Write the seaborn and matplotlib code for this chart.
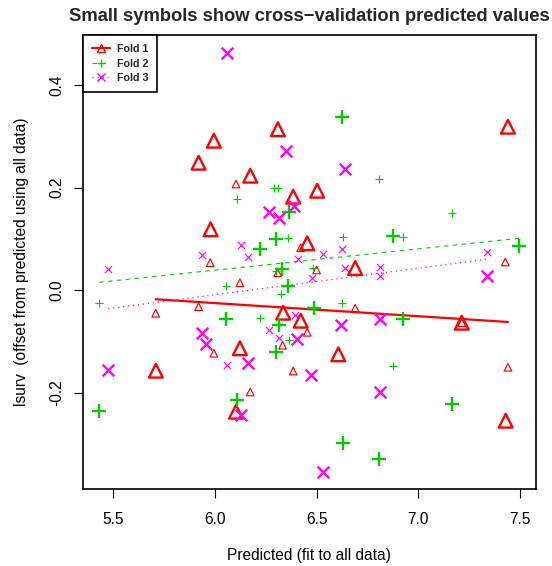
import matplotlib
matplotlib.use("Agg")
import matplotlib.pyplot as plt
from matplotlib.lines import Line2D
import seaborn as sns
import numpy as np
import pandas as pd

# ---------------- data ----------------
fold_names = ["Fold 1", "Fold 2", "Fold 3"]
fold_colors = ["#FF0000", "#00CD00", "#FF00FF"]

# Fold 1: large symbols (offset of observed), small symbols (cv predicted)
f1_large_x = [6.310, 5.995, 5.920, 6.174, 6.385, 6.503, 5.979, 6.454, 7.441, 6.690,
              6.336, 6.422, 6.123, 5.710, 6.104, 7.214, 6.607, 7.430]
f1_large_y = [0.3136, 0.2913, 0.2484, 0.2231, 0.1821, 0.1938, 0.1186, 0.0913, 0.3186, 0.0431,
              -0.0441, -0.0597, -0.1135, -0.1572, -0.2371, -0.0636, -0.1252, -0.2547]
f1_small_x = [6.104, 6.422, 5.977, 6.309, 6.500, 7.428, 5.709, 5.920, 6.123, 6.454,
              6.333, 5.995, 6.385, 6.174, 7.214, 6.690, 7.441]
f1_small_y = [0.2069, 0.0827, 0.0534, 0.0339, 0.0392, 0.0548, -0.0452, -0.0324, 0.0144, -0.0823,
              -0.1076, -0.1232, -0.1578, -0.1987, -0.0636, -0.0355, -0.1505]

# Fold 2
f2_large_x = [6.625, 6.366, 6.299, 6.220, 6.330, 7.497, 6.877, 6.487, 6.359, 6.054,
              6.314, 6.300, 6.107, 5.431, 6.926, 7.167, 6.628, 6.808]
f2_large_y = [0.3370, 0.1529, 0.0991, 0.0801, 0.0406, 0.0860, 0.1055, -0.0343, 0.0080, -0.0569,
              -0.0681, -0.1213, -0.2143, -0.2352, -0.0569, -0.2227, -0.2976, -0.3300]
f2_small_x = [6.290, 6.310, 6.107, 6.358, 6.299, 6.484, 6.808, 7.167, 6.628, 6.926,
              5.431, 6.054, 6.323, 6.222, 6.366, 6.625, 6.877]
f2_small_y = [0.1991, 0.1991, 0.1777, 0.1010, 0.0372, 0.0431, 0.2161, 0.1509, 0.1030, 0.1030,
              -0.0257, 0.0080, -0.0076, -0.0538, -0.0973, -0.0246, -0.1474]

# Fold 3
f3_large_x = [6.061, 6.348, 6.389, 6.264, 6.315, 6.638, 7.337, 5.936, 6.405, 5.956,
              6.163, 5.475, 6.474, 6.127, 6.622, 6.812, 6.812, 6.533]
f3_large_y = [0.4629, 0.2713, 0.1646, 0.1517, 0.1400, 0.2362, 0.0275, -0.0831, -0.0959, -0.1051,
              -0.1427, -0.1558, -0.1656, -0.2436, -0.0686, -0.0569, -0.1993, -0.3547]
f3_small_x = [6.127, 5.936, 6.161, 6.407, 5.475, 6.533, 6.623, 7.337, 6.638, 6.812,
              6.812, 6.476, 6.395, 6.264, 6.317, 6.061]
f3_small_y = [0.0879, 0.0690, 0.0640, 0.0601, 0.0406, 0.0704, 0.0807, 0.0749, 0.0425, 0.0445,
              0.0275, 0.0230, -0.0486, -0.0778, -0.0928, -0.1461]

# fitted line per fold: value at the fold's smallest and largest x
line_y_start = [-0.0179, 0.0152, -0.0363]
line_y_end = [-0.0622, 0.1010, 0.0601]

x_ticks = [5.5, 6.0, 6.5, 7.0, 7.5]
y_ticks = [-0.2, 0.0, 0.2, 0.4]

title = "Small symbols show cross\u2212validation predicted values"
x_label = "Predicted (fit to all data)"
y_label = "lsurv  (offset from predicted using all data)"

# ---------------- styling ----------------
sns.set_theme(style="ticks")
plt.rcParams["font.family"] = ["Liberation Sans", "DejaVu Sans"]
plt.rcParams["axes.unicode_minus"] = True

fig = plt.figure(figsize=(5.52, 5.66), dpi=100)
ax = fig.add_axes([0.1498, 0.1366, 0.9710 - 0.1498, 0.9382 - 0.1366])

folds = [
    (f1_large_x, f1_large_y, f1_small_x, f1_small_y),
    (f2_large_x, f2_large_y, f2_small_x, f2_small_y),
    (f3_large_x, f3_large_y, f3_small_x, f3_small_y),
]
markers = ["^", "+", "x"]
large_sizes = [98, 110, 70]
small_sizes = [30, 36, 26]
line_styles = ["-", (0, (4, 4)), (0, (1, 3))]
line_widths = [1.6, 0.8, 0.9]

for i, (lx, ly, sx, sy) in enumerate(folds):
    col = fold_colors[i]
    m = markers[i]
    dl = pd.DataFrame({"x": lx, "y": ly})
    ds = pd.DataFrame({"x": sx, "y": sy})
    if m == "^":
        sns.scatterplot(data=dl, x="x", y="y", marker=m, s=large_sizes[i], facecolors="none",
                        edgecolor=col, linewidth=1.7, ax=ax, zorder=3)
        sns.scatterplot(data=ds, x="x", y="y", marker=m, s=small_sizes[i], facecolors="none",
                        edgecolor=col, linewidth=0.85, ax=ax, zorder=3)
    else:
        sns.scatterplot(data=dl, x="x", y="y", marker=m, s=large_sizes[i], color=col,
                        linewidth=1.7, ax=ax, zorder=3)
        sns.scatterplot(data=ds, x="x", y="y", marker=m, s=small_sizes[i], color=col,
                        linewidth=0.85, ax=ax, zorder=3)
    allx = lx + sx
    dline = pd.DataFrame({"x": [min(allx), max(allx)], "y": [line_y_start[i], line_y_end[i]]})
    sns.lineplot(data=dline, x="x", y="y", color=col, linestyle=line_styles[i],
                 linewidth=line_widths[i], ax=ax, zorder=2)

ax.set_xlim(5.35, 7.579)
ax.set_ylim(-0.3873, 0.4975)
ax.set_xticks(x_ticks)
ax.set_xticklabels([f"{v:.1f}" for v in x_ticks])
ax.set_yticks(y_ticks)
ax.set_yticklabels([f"{v:.1f}" for v in y_ticks], rotation=90, va="center")

for sp in ax.spines.values():
    sp.set_visible(True)
    sp.set_color("black")
    sp.set_linewidth(1.2)

ax.tick_params(axis="both", direction="out", length=6.3, width=0.8, color="black",
               labelsize=11.2, labelcolor="black")
ax.tick_params(axis="x", pad=10.5)
ax.tick_params(axis="y", pad=7.0)

ax.set_xlabel(x_label, fontsize=11.2, color="black", labelpad=15)
ax.set_ylabel(y_label, fontsize=11.2, color="black", labelpad=14.5)
ax.set_title(title, fontsize=13.2, fontweight="bold", pad=10)

handles = []
for i in range(3):
    if markers[i] == "^":
        h = Line2D([0], [0], color=fold_colors[i], linestyle=line_styles[i], linewidth=line_widths[i],
                   marker="^", markersize=6, markerfacecolor="none", markeredgecolor=fold_colors[i],
                   markeredgewidth=1.0)
    else:
        h = Line2D([0], [0], color=fold_colors[i], linestyle=line_styles[i], linewidth=line_widths[i],
                   marker=markers[i], markersize=6, markeredgewidth=1.0)
    handles.append(h)

leg = ax.legend(handles, fold_names, loc="upper left", bbox_to_anchor=(0, 1), borderaxespad=0,
                fancybox=False, framealpha=1, edgecolor="black", prop={"weight": "bold", "size": 7.7},
                handlelength=1.75, handletextpad=0.6, labelspacing=0.42,
                borderpad=0.85)
leg.get_frame().set_linewidth(1.2)

fig.savefig("out.png", dpi=100)
